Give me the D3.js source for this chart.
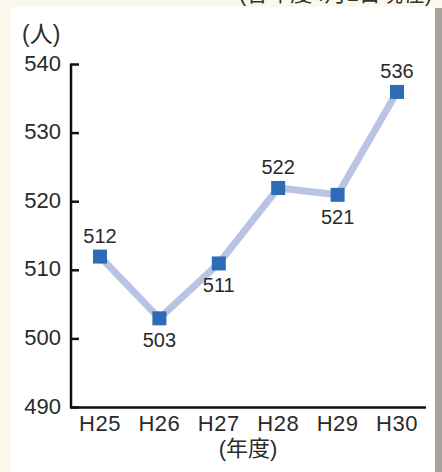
<!DOCTYPE html>
<html>
<head>
<meta charset="utf-8">
<script src="https://cdn.jsdelivr.net/npm/d3@7"></script>
<style>
  body { margin: 0; background: #fbf8ee; }
  svg { display: block; font-family: "Liberation Sans", "Noto Sans CJK JP", sans-serif; }
</style>
</head>
<body>
<svg id="chart" width="442" height="472"></svg>
<script>
const years = ["H25", "H26", "H27", "H28", "H29", "H30"];
const people = [512, 503, 511, 522, 521, 536];
const labelSide = ["above", "below", "below", "above", "below", "above"];
const yTicks = [490, 500, 510, 520, 530, 540];

const svg = d3.select("#chart");

// page / panel
svg.append("rect").attr("x", 435).attr("y", 8).attr("width", 7).attr("height", 464).attr("fill", "#a7a49d");
svg.append("rect").attr("x", 11).attr("y", 7).attr("width", 424).attr("height", 465).attr("fill", "#ffffff");
svg.append("text")
  .attr("x", 432).attr("y", 1)
  .attr("text-anchor", "end")
  .attr("font-size", "22px")
  .attr("fill", "#333")
  .text("(各年度4月1日現在)");

const x = d3.scalePoint().domain(years).range([100, 397]);
const y = d3.scaleLinear().domain([490, 540]).range([407.5, 64.5]);

const g = svg.append("g");

// y axis
g.append("line").attr("x1", 71).attr("x2", 71).attr("y1", y(540) - 1).attr("y2", y(490))
  .attr("stroke", "#111").attr("stroke-width", 2.5);
g.selectAll(".ytick").data(yTicks).join("line")
  .attr("x1", 71).attr("x2", 79)
  .attr("y1", d => y(d)).attr("y2", d => y(d))
  .attr("stroke", "#111").attr("stroke-width", 2.5);
g.selectAll(".ylab").data(yTicks).join("text")
  .attr("x", 61).attr("y", d => y(d) + 6)
  .attr("text-anchor", "end")
  .attr("font-size", "22px").attr("fill", "#2a2a2a")
  .text(d => d);

// x axis
g.append("line").attr("x1", 70).attr("x2", 426).attr("y1", y(490)).attr("y2", y(490))
  .attr("stroke", "#111").attr("stroke-width", 2.5);
g.selectAll(".xlab").data(years).join("text")
  .attr("x", d => x(d)).attr("y", 431)
  .attr("text-anchor", "middle")
  .attr("font-size", "22px").attr("letter-spacing", "0.5px").attr("fill", "#2a2a2a")
  .text(d => d);

g.append("text").attr("x", 22).attr("y", 42).attr("font-size", "23px").attr("fill", "#2a2a2a").text("(人)");
g.append("text").attr("x", 248).attr("y", 456).attr("text-anchor", "middle")
  .attr("font-size", "22px").attr("fill", "#2a2a2a").text("(年度)");

const pts = years.map((yr, i) => ({ yr, v: people[i], side: labelSide[i] }));

g.append("path")
  .datum(pts)
  .attr("fill", "none")
  .attr("stroke", "#b9c3e3")
  .attr("stroke-width", 7)
  .attr("d", d3.line().x(d => x(d.yr)).y(d => y(d.v)));

g.selectAll(".pt").data(pts).join("rect")
  .attr("x", d => x(d.yr) - 7).attr("y", d => y(d.v) - 7)
  .attr("width", 14).attr("height", 14)
  .attr("fill", "#2f6cb7");

g.selectAll(".val").data(pts).join("text")
  .attr("x", d => x(d.yr))
  .attr("y", d => d.side === "above" ? y(d.v) - 14 : y(d.v) + 29)
  .attr("text-anchor", "middle")
  .attr("font-size", "20px").attr("fill", "#2a2a2a")
  .text(d => d.v);
</script>
</body>
</html>
